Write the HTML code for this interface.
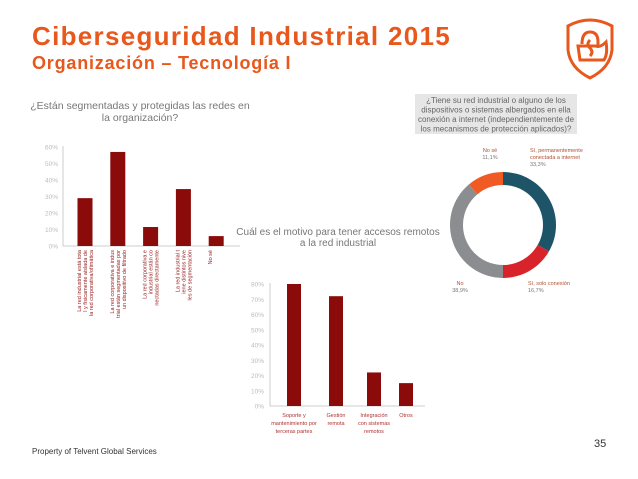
<!DOCTYPE html>
<html><head><meta charset="utf-8"><style>
body{margin:0;width:638px;height:479px;background:#fff;overflow:hidden;font-family:"Liberation Sans",sans-serif;position:relative}
.t{position:absolute;white-space:nowrap}
</style></head><body>
<div class="t" style="left:32px;top:21px;font-size:26px;font-weight:bold;color:#e8581c;letter-spacing:1.3px">Ciberseguridad Industrial 2015</div>
<div class="t" style="left:32px;top:53px;font-size:18px;font-weight:bold;color:#e8581c;letter-spacing:0.8px">Organización – Tecnología I</div>
<svg style="position:absolute;left:560px;top:14px" width="60" height="68" viewBox="0 0 60 68">
<path d="M8 12 Q30 0 52 12 L52 36 Q50 54 30 64 Q10 54 8 36 Z" fill="none" stroke="#e8581c" stroke-width="3"/>
<path d="M22 30 Q22 18 30 18 Q38 18 38 28 L38 32" fill="none" stroke="#e8581c" stroke-width="3"/>
<path d="M18 32 L20 46 L44 46 Q48 40 46 28 Q40 34 36 32 Z" fill="none" stroke="#e8581c" stroke-width="3"/>
<path d="M30 26 Q26 30 30 34 Q34 38 30 42" fill="none" stroke="#e8581c" stroke-width="3"/>
</svg>
<div class="t" style="left:32px;top:447px;font-size:8px;color:#333">Property of Telvent Global Services</div>
<div class="t" style="left:594px;top:438px;font-size:11px;color:#333">35</div>
<svg id="c" width="638" height="479" style="position:absolute;left:0;top:0" font-family="Liberation Sans, sans-serif"></svg>
<script>
const c1Cats=["La red industrial está total y físicamente aislada de la red corporativa/ofimática","La red corporativa e industrial están segmentadas por un dispositivo de filtrado","La red corporativa e industrial están conectadas directamente","La red industrial tiene distintos niveles de segmentación","No sé"];
const c1Vals=[29,57,11.5,34.5,6];
const c1Ticks=[0,10,20,30,40,50,60];
const c2Cats=[["Soporte y","mantenimiento por","terceras partes"],["Gestión","remota"],["Integración","con sistemas","remotos"],["Otros"]];
const c2Vals=[80,72,22,15];
const c2Ticks=[0,10,20,30,40,50,60,70,80];
const c3Labels=[["Sí, permanentemente","conectada a internet"],["Sí, solo conexión"],["No"],["No sé"]];
const c3Vals=[33.3,16.7,38.9,11.1];
const c3Colors=["#1e5468","#d8232a","#8b8d90","#f05a24"];
const S=document.getElementById('c');const NS="http://www.w3.org/2000/svg";
function mk(t,a,p){const e=document.createElementNS(NS,t);for(const k in a)e.setAttribute(k,a[k]);(p||S).appendChild(e);return e;}
function txt(x,y,s,a){const e=mk('text',Object.assign({x:x,y:y},a));e.textContent=s;return e;}
// chart 1
let t=txt(140,109,"¿Están segmentadas y protegidas las redes en",{"font-size":10.5,fill:"#777","text-anchor":"middle"});


t=txt(140,121,"la organización?",{"font-size":10.5,fill:"#777","text-anchor":"middle"});


const y1=v=>246-v/60*99;const x1=i=>85+i*32.8;
mk('line',{x1:63,y1:146,x2:63,y2:246,stroke:"#ccc"});mk('line',{x1:63,y1:246,x2:240,y2:246,stroke:"#ccc"});
c1Ticks.forEach(v=>{const e=txt(58,y1(v)+2.5,v+"%",{"font-size":6.5,fill:"#bbb","text-anchor":"end"});

});
c1Vals.forEach((v,i)=>{const r=mk('rect',{x:x1(i)-7.5,y:y1(v),width:15,height:246-y1(v),fill:"#8b0a0a"});


const words=c1Cats[i];const lines=words.length>25?[words.slice(0,words.length/3|0),words.slice(words.length/3|0,2*words.length/3|0),words.slice(2*words.length/3|0)]:[words];
lines.forEach((l,j)=>{const e=txt(0,0,l,{"font-size":5.5,fill:"#9b2020","text-anchor":"end",transform:`translate(${x1(i)-4+j*6},250) rotate(-90)`});

});});
// chart 2
t=txt(338,235,"Cuál es el motivo para tener accesos remotos",{"font-size":10,fill:"#777","text-anchor":"middle"});


t=txt(338,246,"a la red industrial",{"font-size":10,fill:"#777","text-anchor":"middle"});


const y2=v=>406-v/80*122;const x2=i=>[294,336,374,406][i];
mk('line',{x1:270,y1:283,x2:270,y2:406,stroke:"#ccc"});mk('line',{x1:270,y1:406,x2:425,y2:406,stroke:"#ccc"});
c2Ticks.forEach(v=>{const e=txt(264,y2(v)+2.5,v+"%",{"font-size":6.5,fill:"#bbb","text-anchor":"end"});

});
c2Vals.forEach((v,i)=>{const r=mk('rect',{x:x2(i)-7,y:y2(v),width:14,height:406-y2(v),fill:"#8b0a0a"});


c2Cats[i].forEach((l,j)=>{const e=txt(x2(i),417+j*8,l,{"font-size":5.5,fill:"#b03030","text-anchor":"middle"});

});});
// chart 3
mk('rect',{x:415,y:94,width:162,height:40,fill:"#e6e6e6"});
["¿Tiene su red industrial o alguno de los","dispositivos o sistemas albergados en ella","conexión a internet (independientemente de","los mecanismos de protección aplicados)?"].forEach((l,j)=>{const e=txt(496,103+j*9.5,l,{"font-size":8,fill:"#666","text-anchor":"middle"});

});
const cx=503,cy=225,R=53,r0=40;let a=-Math.PI/2;const tot=c3Vals.reduce((s,v)=>s+v,0);
const lp=[[530,152],[528,285],[460,285],[490,152]];
c3Vals.forEach((v,i)=>{const a2=a+v/tot*2*Math.PI;const L=(a2-a)>Math.PI?1:0;
const p=`M${cx+R*Math.cos(a)} ${cy+R*Math.sin(a)} A${R} ${R} 0 ${L} 1 ${cx+R*Math.cos(a2)} ${cy+R*Math.sin(a2)} L${cx+r0*Math.cos(a2)} ${cy+r0*Math.sin(a2)} A${r0} ${r0} 0 ${L} 0 ${cx+r0*Math.cos(a)} ${cy+r0*Math.sin(a)} Z`;
const e=mk('path',{d:p,fill:c3Colors[i]});


a=a2;
const anc=i==2||i==3?"middle":"start";
const lines=c3Labels[i].concat([v.toFixed(1).replace('.',',')+"%"]);
lines.forEach((l,j)=>{const t2=txt(lp[i][0],lp[i][1]+j*7,l,{"font-size":5.5,fill:j==lines.length-1?"#777":"#b05030","text-anchor":anc});

});});
</script>
</body></html>
